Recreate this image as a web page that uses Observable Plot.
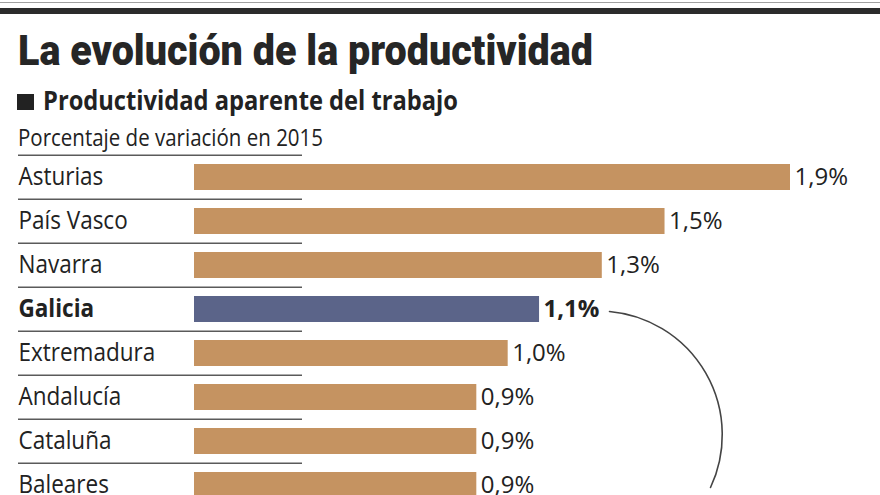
<!DOCTYPE html>
<html><head><meta charset="utf-8">
<script src="https://cdn.jsdelivr.net/npm/d3@7"></script>
<script src="https://cdn.jsdelivr.net/npm/@observablehq/plot@0.6"></script>
<style>
html,body{margin:0;padding:0;background:#fff;}
body{width:880px;height:495px;overflow:hidden;position:relative;font-family:"Open Sans",sans-serif;color:#222;}
.t{position:absolute;white-space:nowrap;line-height:1;transform-origin:0 0;left:0;top:0;}
#title{font-family:Roboto,"Liberation Sans Narrow",sans-serif;font-weight:900;font-size:42px;color:#262626;}
#subtitle{font-family:"Open Sans",sans-serif;font-weight:700;font-size:26px;color:#222;}
#note{font-family:"Open Sans",sans-serif;font-weight:400;font-size:24px;color:#222;}
#rule1{position:absolute;left:0;top:1.5px;width:880px;height:1.5px;background:#a0a0a0;}
#rule2{position:absolute;left:0;top:8px;width:880px;height:6px;background:#2b2b2b;}
#square{position:absolute;left:17px;top:94px;width:17px;height:16px;background:#222;}
#chart{position:absolute;left:0;top:140px;}
</style></head>
<body>
<div id="rule1"></div><div id="rule2"></div>
<div class="t" id="title">La evolución de la productividad</div>
<div id="square"></div>
<div class="t" id="subtitle">Productividad aparente del trabajo</div>
<div class="t" id="note">Porcentaje de variación en 2015</div>
<div id="chart"></div>
<script>
// ---- data ----
const regions = ["Asturias","País Vasco","Navarra","Galicia","Extremadura","Andalucía","Cataluña","Baleares"];
const values = [1.9, 1.5, 1.3, 1.1, 1.0, 0.9, 0.9, 0.9];
const highlight = "Galicia";

const data = regions.map((r, i) => ({region: r, value: values[i]}));
const others = data.filter(d => d.region !== highlight);
const hi = data.filter(d => d.region === highlight);
const fmt = d => d3.format(".1f")(d.value).replace(".", ",") + "%";

// header text fitting
function fit(id, x, baseline, w) {
  const el = document.getElementById(id);
  el.style.transform = "none";
  el.style.left = x + "px"; el.style.top = "0px";
  let probe = el.querySelector(".probe");
  if (!probe) {
    probe = document.createElement("span");
    probe.className = "probe";
    probe.style.cssText = "display:inline-block;width:0;height:0;vertical-align:baseline";
    el.appendChild(probe);
  }
  const r = el.getBoundingClientRect();
  const b = probe.getBoundingClientRect().bottom - r.top;
  el.style.top = (baseline - b) + "px";
  el.style.transform = `scaleX(${w / r.width})`;
}
function layout() {
  fit("title", 18, 65, 575);
  fit("subtitle", 43, 110, 415);
  fit("note", 18, 145.7, 305);
}
layout();
if (document.fonts && document.fonts.ready) document.fonts.ready.then(layout);

// ---- chart ----
const step = 44.8, y0 = 12;
const chart = Plot.plot({
  width: 880,
  height: 370,
  marginLeft: 18, marginRight: 578, marginTop: 0, marginBottom: 0,
  style: {fontFamily: '"Open Sans", sans-serif', color: "#222", background: "transparent", overflow: "visible"},
  x: {domain: [0, 1.9], range: [194, 790], axis: null},
  y: {domain: regions, range: [y0, y0 + regions.length * step], paddingInner: 0.4, paddingOuter: 0.2, axis: null},
  marks: [
    Plot.ruleY(regions, {y: d => d, dy: -22.2, stroke: "#5a5a5a", strokeWidth: 1.4}),
    Plot.ruleY(regions.slice(-1), {y: d => d, dy: 22.6, stroke: "#5a5a5a", strokeWidth: 1.4}),
    Plot.barX(others, {x: "value", y: "region", fill: "#c59361"}),
    Plot.barX(hi, {x: "value", y: "region", fill: "#5b6489"}),
    Plot.text(others, {y: "region", text: "region", frameAnchor: "left", textAnchor: "start", fontSize: 25, dy: -0.6, fill: "#222"}),
    Plot.text(hi, {y: "region", text: "region", frameAnchor: "left", textAnchor: "start", fontSize: 25, fontWeight: "bold", dy: -0.6, fill: "#222"}),
    Plot.text(others, {x: "value", y: "region", text: fmt, textAnchor: "start", dx: 4, dy: 0.3, fontSize: 24, fill: "#222"}),
    Plot.text(hi, {x: "value", y: "region", text: fmt, textAnchor: "start", dx: 4, dy: 0.3, fontSize: 24, fontWeight: "bold", fill: "#222"}),
    Plot.arrow([0], {x1: () => 1.323, y1: () => highlight, x2: () => 1.645, y2: () => regions[regions.length - 1],
      dy: 2, bend: 55, headLength: 0, stroke: "#444", strokeWidth: 1.6})
  ]
});
document.getElementById("chart").appendChild(chart);

// narrow the row labels (the source uses a condensed face)
const textGroups = chart.querySelectorAll('g[aria-label="text"]');
[textGroups[0], textGroups[1]].forEach(g => {
  if (!g) return;
  g.querySelectorAll("text").forEach(t => {
    const tr = t.getAttribute("transform");
    if (tr) t.setAttribute("transform", tr + " scale(0.9,1)");
    else {
      const x = +t.getAttribute("x") || 0, y = +t.getAttribute("y") || 0;
      t.removeAttribute("x"); t.removeAttribute("y");
      t.setAttribute("transform", `translate(${x},${y}) scale(0.9,1)`);
    }
  });
});
</script>
</body></html>
